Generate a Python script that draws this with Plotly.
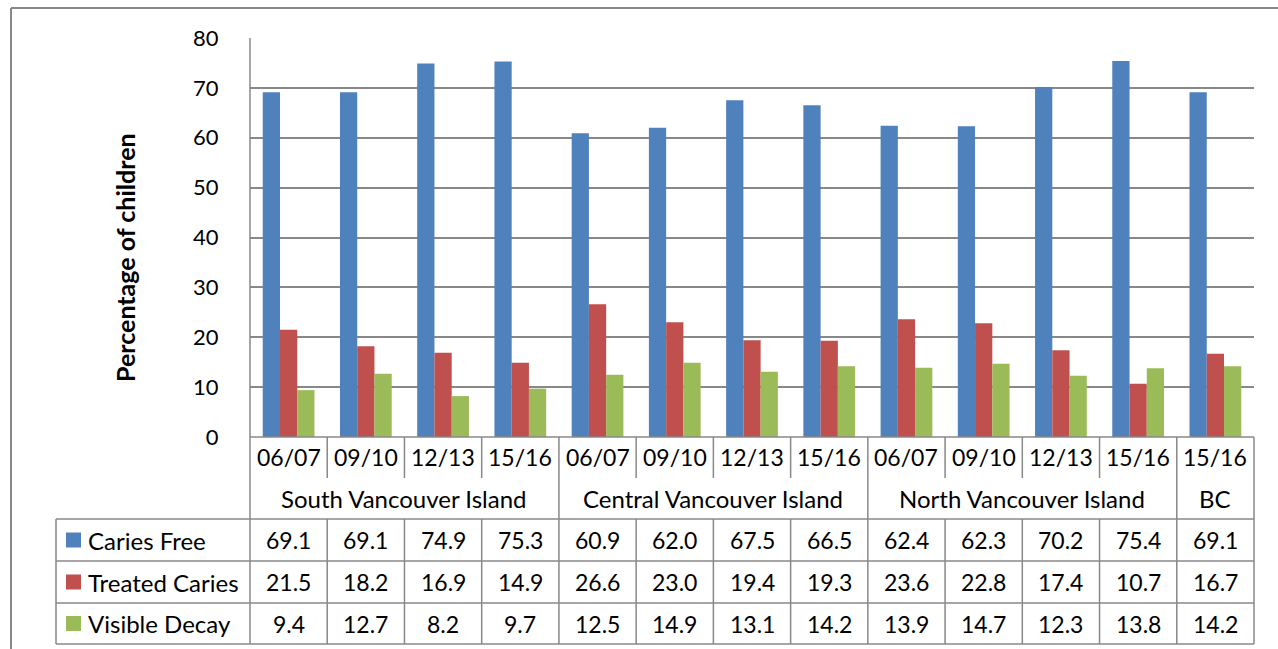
import plotly.graph_objects as go

periods = ["06/07", "09/10", "12/13", "15/16", "06/07", "09/10", "12/13", "15/16",
           "06/07", "09/10", "12/13", "15/16", "15/16"]
regions = ["South Vancouver Island", "Central Vancouver Island", "North Vancouver Island", "BC"]
region_sizes = [4, 4, 4, 1]
caries_free = [69.1, 69.1, 74.9, 75.3, 60.9, 62.0, 67.5, 66.5, 62.4, 62.3, 70.2, 75.4, 69.1]
treated_caries = [21.5, 18.2, 16.9, 14.9, 26.6, 23.0, 19.4, 19.3, 23.6, 22.8, 17.4, 10.7, 16.7]
visible_decay = [9.4, 12.7, 8.2, 9.7, 12.5, 14.9, 13.1, 14.2, 13.9, 14.7, 12.3, 13.8, 14.2]
series_names = ["Caries Free", "Treated Caries", "Visible Decay"]
series_values = [caries_free, treated_caries, visible_decay]
colors = ["#4F81BD", "#C0504D", "#9BBB59"]
y_ticks = [0, 10, 20, 30, 40, 50, 60, 70, 80]

W, H = 1278, 649
FONT = "Lato"
LINE = "#888888"


def fx(px):
    return px / W


def fy(py):
    return (H - py) / H


n = len(periods)
xs = list(range(n))

fig = go.Figure()
for name, vals, col in zip(series_names, series_values, colors):
    fig.add_trace(go.Bar(x=xs, y=vals, name=name, marker=dict(color=col, line=dict(width=0)),
                         showlegend=False))

# pixel geometry
plot_l, plot_r, plot_t, plot_b = 250, 1254, 38, 437
tbl_l = 56
row_period = (437, 478)
row_region = (478, 519)
data_rows = [(519, 561), (561, 603), (603, 644)]

shapes = []
annotations = []


def hline(py, x0, x1, xref="paper", width=1.5):
    shapes.append(dict(type="line", xref=xref, yref="paper", x0=x0, x1=x1, y0=fy(py), y1=fy(py),
                       line=dict(color=LINE, width=width)))


def vline(x, py0, py1, xref="paper", width=1.5):
    shapes.append(dict(type="line", xref=xref, yref="paper", x0=x, x1=x, y0=fy(py0), y1=fy(py1),
                       line=dict(color=LINE, width=width)))


# outer frame
hline(8, fx(11), 1.0, width=2)
vline(fx(11), 8, H, width=2)

# table horizontal lines
hline(plot_b, -0.5, n - 0.5, xref="x")
for py in [519, 561, 603, 644]:
    hline(py, fx(tbl_l), fx(plot_r))

# table vertical lines
vline(fx(plot_l), plot_t, 644)
vline(fx(tbl_l), 519, 644)
vline(fx(plot_r), plot_b, 644)
for k in range(1, n):
    vline(k - 0.5, row_period[0], row_period[1], xref="x")
    vline(k - 0.5, data_rows[0][0], data_rows[-1][1], xref="x")
start = 0
for size in region_sizes[:-1]:
    start += size
    vline(start - 0.5, row_region[0], row_region[1], xref="x")

num_font = dict(family=FONT, size=23, color="#000000")
lbl_font = dict(family=FONT, size=24, color="#000000")

# period labels
for i, p in enumerate(periods):
    annotations.append(dict(x=i, y=fy(sum(row_period) / 2), xref="x", yref="paper", text=p,
                            showarrow=False, font=num_font, xanchor="center", yanchor="middle"))
# region labels
start = 0
for reg, size in zip(regions, region_sizes):
    annotations.append(dict(x=start + (size - 1) / 2, y=fy(sum(row_region) / 2), xref="x", yref="paper",
                            text=reg, showarrow=False, font=lbl_font, xanchor="center", yanchor="middle"))
    start += size

# data rows
for (r0, r1), name, vals, col in zip(data_rows, series_names, series_values, colors):
    yc = fy((r0 + r1) / 2)
    shapes.append(dict(type="rect", xref="paper", yref="paper", x0=fx(66), x1=fx(81),
                       y0=yc - 7.5 / H, y1=yc + 7.5 / H, line=dict(width=0), fillcolor=col))
    annotations.append(dict(x=fx(86), y=yc, xref="paper", yref="paper", text=name, showarrow=False,
                            font=lbl_font, xanchor="left", yanchor="middle"))
    for i, v in enumerate(vals):
        annotations.append(dict(x=i, y=yc, xref="x", yref="paper", text=f"{v:.1f}", showarrow=False,
                                font=num_font, xanchor="center", yanchor="middle"))

# y-axis title
annotations.append(dict(x=fx(125), y=fy(258), xref="paper", yref="paper", text="<b>Percentage of children</b>",
                        textangle=-90, showarrow=False, font=dict(family=FONT, size=25, color="#000000"),
                        xanchor="center", yanchor="middle"))

fig.update_layout(
    width=W, height=H,
    margin=dict(l=0, r=0, t=0, b=0, autoexpand=False),
    paper_bgcolor="white", plot_bgcolor="white",
    barmode="group", bargap=0.33, bargroupgap=0,
    xaxis=dict(domain=[fx(plot_l), fx(plot_r)], range=[-0.5, n - 0.5], showticklabels=False,
               showgrid=False, zeroline=False, showline=False, fixedrange=True, automargin=False),
    yaxis=dict(domain=[fy(plot_b), fy(plot_t)], range=[0, 80], tickvals=y_ticks,
               ticktext=[str(t) for t in y_ticks], showgrid=True, gridcolor=LINE, gridwidth=1.5,
               zeroline=False, showline=False, ticks="outside", ticklen=0, ticklabelstandoff=26,
               tickfont=dict(family=FONT, size=22, color="#000000"), fixedrange=True, automargin=False),
    shapes=shapes,
    annotations=annotations,
)

fig.write_html("out.html", config={"displayModeBar": False},
               post_script="document.body.style.margin='0';document.body.style.padding='0';")
